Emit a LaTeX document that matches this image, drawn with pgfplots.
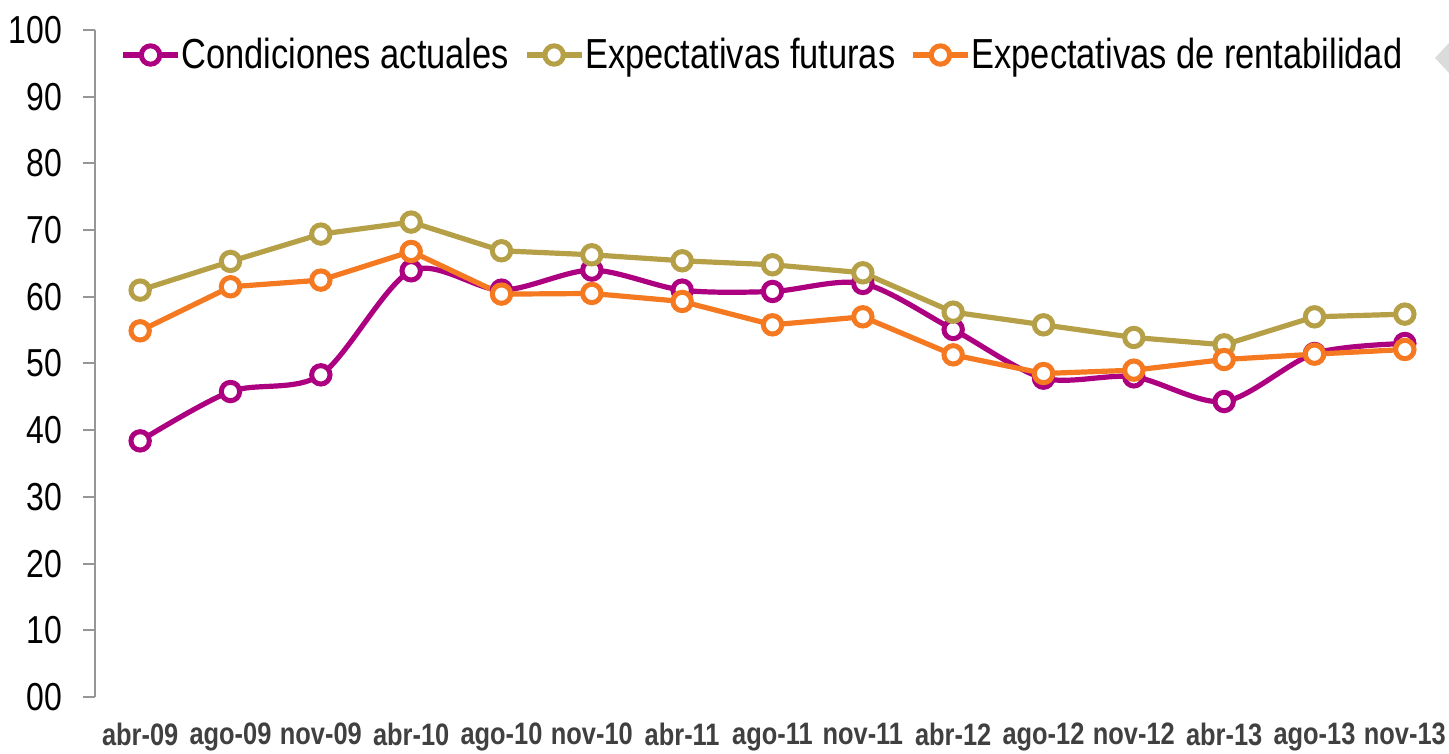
\documentclass[border=0pt]{standalone}
\usepackage{pgfplots}
\pgfplotsset{compat=1.18}
\usepackage{fontspec}
\setmainfont{Liberation Sans}[FakeStretch=0.82]
\definecolor{cpurple}{RGB}{172,0,128}
\definecolor{colive}{RGB}{181,160,72}
\definecolor{corange}{RGB}{244,121,32}
\definecolor{axgray}{RGB}{150,150,150}
\definecolor{lblgray}{RGB}{64,64,64}
\begin{document}
\begin{tikzpicture}
\begin{axis}[
  name=ax,
  scale only axis,
  width=677.5bp, height=333.5bp,
  xmin=-0.5, xmax=14.5, ymin=0, ymax=100,
  axis lines*=left,
  x axis line style={draw=none},
  y axis line style={axgray, line width=1bp},
  xtick={0,...,14},
  xticklabels={abr-09,ago-09,nov-09,abr-10,ago-10,nov-10,abr-11,ago-11,nov-11,abr-12,ago-12,nov-12,abr-13,ago-13,nov-13},
  xtick style={draw=none},
  ytick={0,10,...,100},
  yticklabels={00,10,20,30,40,50,60,70,80,90,100},
  ytick style={axgray, line width=1bp},
  tick align=outside,
  major tick length=6bp,
  ytick pos=left, xtick pos=bottom,
  yticklabel style={font=\fontsize{19.5bp}{22bp}\selectfont, text=black, xshift=-7bp},
  xticklabel style={font=\fontsize{15.5bp}{18bp}\selectfont\bfseries, text=lblgray, yshift=-3.5bp},
  legend columns=-1,
  legend cell align=left,
  legend style={draw=none, fill=none, at={(0.0185,0.9625)}, anchor=west,
    font=\fontsize{21bp}{24bp}\selectfont, inner sep=0pt,
    nodes={inner sep=0.5bp},
    /tikz/every even column/.append style={column sep=7bp}},
  legend image code/.code={\draw[mark repeat=2,mark phase=2] plot coordinates {(0bp,0bp)(13.75bp,0bp)(27.5bp,0bp)};},
  every axis plot/.append style={line width=2.6bp, mark=*, mark size=4.6bp, mark options={fill=white, solid, line width=2.5bp}},
  clip=false,
]
\addplot[color=cpurple, smooth, tension=0.5] coordinates {
(0,38.4)(1,45.8)(2,48.3)(3,63.9)(4,61.0)(5,64.0)(6,61.0)(7,60.8)(8,62.0)(9,55.1)(10,47.8)(11,48.0)(12,44.3)(13,51.5)(14,53.0)};
\addlegendentry{Condiciones actuales}
\addplot[color=colive] coordinates {
(0,61.0)(1,65.3)(2,69.4)(3,71.2)(4,66.9)(5,66.3)(6,65.4)(7,64.8)(8,63.6)(9,57.7)(10,55.8)(11,53.9)(12,52.8)(13,57.0)(14,57.4)};
\addlegendentry{Expectativas futuras}
\addplot[color=corange] coordinates {
(0,54.9)(1,61.5)(2,62.5)(3,66.8)(4,60.4)(5,60.5)(6,59.3)(7,55.8)(8,57.0)(9,51.3)(10,48.5)(11,49.0)(12,50.6)(13,51.4)(14,52.1)};
\addlegendentry{Expectativas de rentabilidad}
\end{axis}
\begin{scope}[shift={(ax.south west)}, xshift=-47.5bp, yshift=-28.5bp]
\fill[gray!28] (717.5bp,348bp)--(724.5bp,355.5bp)--(724.5bp,340.5bp)--cycle;
\end{scope}
\pgfresetboundingbox
\path[use as bounding box] (ax.south west) ++(-47.5bp,-28.5bp) rectangle ++(724.5bp,377bp);
\end{tikzpicture}
\end{document}
